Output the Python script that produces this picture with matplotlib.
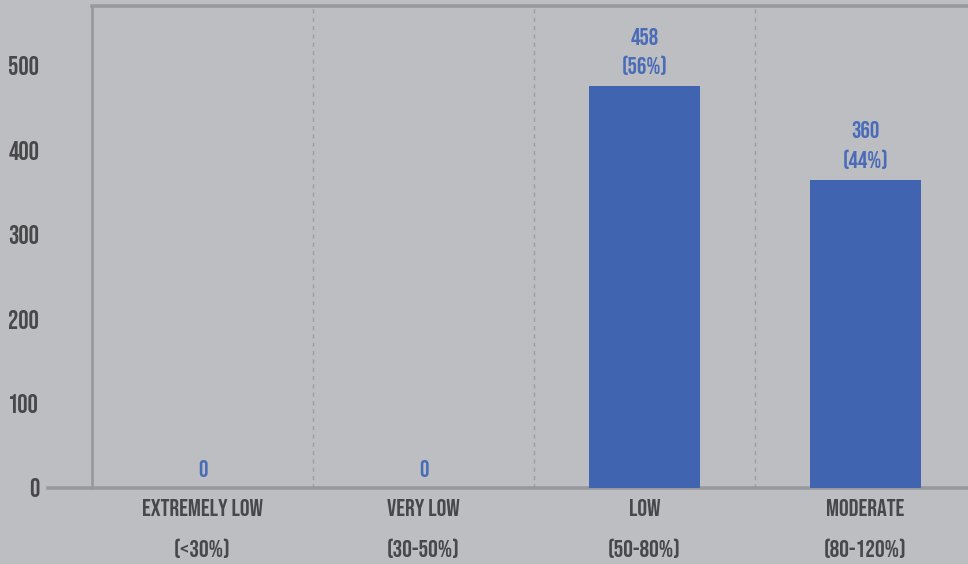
import matplotlib
matplotlib.use('Agg')
import matplotlib.pyplot as plt

# Data
categories = ['EXTREMELY LOW', 'VERY LOW', 'LOW', 'MODERATE']
ranges = ['(<30%)', '(30-50%)', '(50-80%)', '(80-120%)']
bar_heights = [0, 0, 476, 365]
counts = [0, 0, 458, 360]
shares = [None, None, '56%', '44%']
yticks = [0, 100, 200, 300, 400, 500]

plt.rcParams['font.family'] = ['Bebas Neue', 'DejaVu Sans']

bg = '#bdbec2'
bar_color = '#4064b0'
label_color = '#4a6cb8'
text_color = '#48484b'
spine_color = '#98999d'

fig = plt.figure(figsize=(9.68, 5.64), dpi=100, facecolor=bg)
ax = fig.add_axes([0.095, 0.1348, 0.9132, 0.8546], facecolor=bg)

x = list(range(len(categories)))
ax.bar(x, bar_heights, width=0.5, color=bar_color, zorder=3)

# data labels above the bars
for xi, h, c, s in zip(x, bar_heights, counts, shares):
    txt = str(c) if s is None else f'{c}\n({s})'
    ax.annotate(txt, (xi, h), xytext=(0, 8), textcoords='offset points',
                ha='center', va='bottom', color=label_color, fontsize=17,
                linespacing=1.6, zorder=4)

# dashed separators between categories
for b in [0.5, 1.5, 2.5]:
    ax.axvline(b, color='#9c9da1', lw=1, ls=(0, (3, 3)), zorder=1)

ax.set_xlim(-0.5, 3.5)
ax.set_ylim(0, 571)
ax.set_yticks(yticks)
ax.set_yticklabels([str(t) for t in yticks], fontsize=18.5, color=text_color)
ax.set_xticks(x)
ax.set_xticklabels([f'{c}\n{r}' for c, r in zip(categories, ranges)],
                   fontsize=17.5, color=text_color, linespacing=2.2)
ax.tick_params(axis='y', length=0, pad=38)
ax.tick_params(axis='x', length=0, pad=8)

for side in ['top', 'bottom']:
    ax.spines[side].set_color(spine_color)
    ax.spines[side].set_linewidth(2.6)
ax.spines['left'].set_color(spine_color)
ax.spines['left'].set_linewidth(2)
ax.spines['right'].set_visible(False)
ax.spines['bottom'].set_bounds(-0.7, 3.5)

fig.savefig('out.png', dpi=100, facecolor=bg)
